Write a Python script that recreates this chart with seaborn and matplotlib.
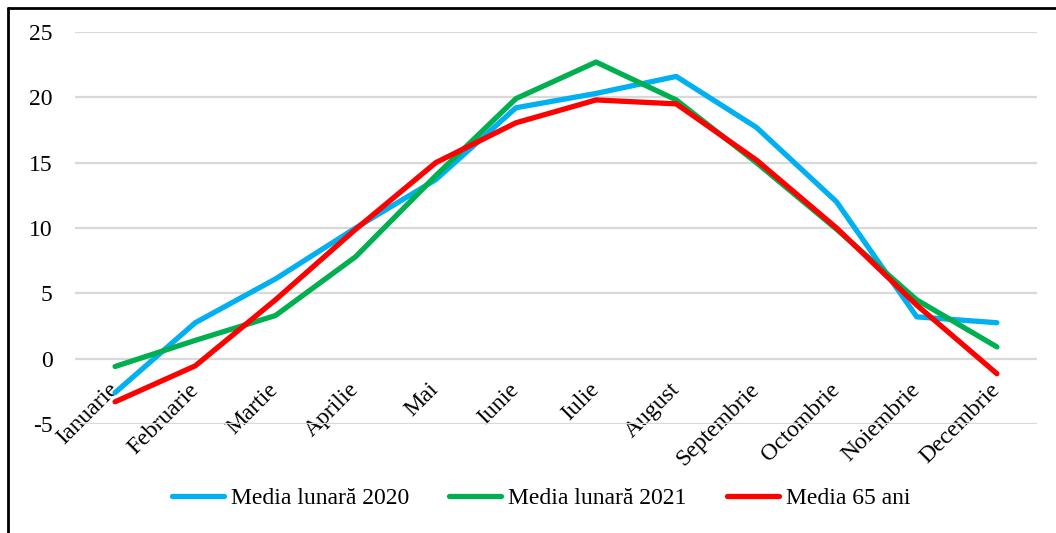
import matplotlib
matplotlib.use("Agg")
import matplotlib.pyplot as plt
import seaborn as sns
import pandas as pd
from matplotlib.lines import Line2D

months = ["Ianuarie", "Februarie", "Martie", "Aprilie", "Mai", "Iunie",
          "Iulie", "August", "Septembrie", "Octombrie", "Noiembrie", "Decembrie"]
media_2020 = [-2.6, 2.75, 6.1, 10.0, 13.7, 19.2, 20.3, 21.6, 17.7, 12.0, 3.2, 2.75]
media_2021 = [-0.6, 1.4, 3.3, 7.8, 14.0, 19.9, 22.7, 19.8, 15.0, 9.9, 4.5, 0.9]
media_65 = [-3.3, -0.55, 4.5, 9.9, 15.0, 18.05, 19.8, 19.5, 15.2, 10.0, 4.1, -1.15]
series_names = ["Media lunară 2020", "Media lunară 2021", "Media 65 ani"]
colors = ["#00B0F0", "#00B050", "#FF0000"]
yticks = [-5, 0, 5, 10, 15, 20, 25]

sns.set_theme(style="white")
plt.rcParams["font.family"] = ["Liberation Serif", "DejaVu Serif"]
plt.rcParams["text.color"] = "black"

df = pd.DataFrame({
    "month": months * 3,
    "pos": list(range(12)) * 3,
    "value": media_2020 + media_2021 + media_65,
    "series": [series_names[0]] * 12 + [series_names[1]] * 12 + [series_names[2]] * 12,
})

fig = plt.figure(figsize=(10.56, 5.33), dpi=100)
ax = fig.add_axes([75 / 1056, 1 - 424 / 533, (1037 - 75) / 1056, (424 - 32) / 533])

sns.lineplot(data=df, x="pos", y="value", hue="series", hue_order=series_names,
             palette=colors, linewidth=3.8, ax=ax, legend=False, sort=False)

ax.set_xlim(-0.5, 11.5)
ax.set_ylim(-5, 25)
ax.set_yticks(yticks)
ax.set_yticklabels([str(v) for v in yticks], fontsize=17, color="black")
ax.yaxis.grid(True, color="#D9D9D9", linewidth=1.6)
ax.xaxis.grid(False)
ax.set_axisbelow(True)
for s in ["left", "right", "top"]:
    ax.spines[s].set_visible(False)
ax.spines["bottom"].set_position(("data", 0))
ax.spines["bottom"].set_visible(False)
ax.set_xticks(range(12))
ax.set_xticklabels(months, rotation=45, ha="right", va="center",
                   rotation_mode="anchor", fontsize=17, color="black")
ax.tick_params(axis="x", length=0, pad=20)
ax.tick_params(axis="y", length=0, pad=16)
ax.set_xlabel("")
ax.set_ylabel("")

handles = [Line2D([0], [0], color=c, linewidth=3.8) for c in colors]
fig.legend(handles, series_names, loc="center", bbox_to_anchor=(541 / 1056, 1 - 498 / 533),
           ncol=3, frameon=False, fontsize=17, handlelength=2.2, handletextpad=0.3,
           columnspacing=1.7, labelcolor="black")

# figure frame (left and top edges visible)
fig.add_artist(Line2D([7.5 / 1056, 7.5 / 1056], [0, 1 - 7.5 / 533], color="black",
                      linewidth=2, transform=fig.transFigure))
fig.add_artist(Line2D([7.5 / 1056, 1], [1 - 7.5 / 533, 1 - 7.5 / 533], color="black",
                      linewidth=2, transform=fig.transFigure))

fig.savefig("out.png", dpi=100)
